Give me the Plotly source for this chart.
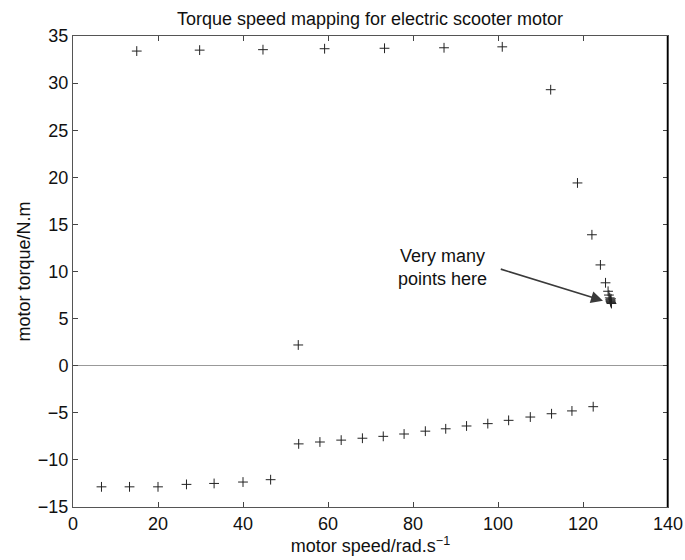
import plotly.graph_objects as go

# Motoring region (upper branch)
speed_motor = [15.0, 29.8, 44.7, 59.2, 73.3, 87.3, 101.0, 112.4, 118.7, 122.1, 124.1,
               125.3, 125.9, 126.1, 126.3, 126.4, 126.5, 126.6, 126.7, 126.5, 126.6]
torque_motor = [33.4, 33.5, 33.55, 33.65, 33.7, 33.75, 33.85, 29.3, 19.4, 13.9, 10.7,
                8.8, 7.9, 7.5, 7.2, 7.0, 6.8, 6.7, 6.6, 6.9, 7.1]

# Single low-torque point
speed_mid = [53.0]
torque_mid = [2.2]

# Regenerative braking region (lower branch)
speed_regen = [6.7, 13.3, 20.0, 26.7, 33.2, 40.0, 46.5,
               53.1, 58.1, 63.1, 68.1, 73.0, 77.9, 82.9, 87.7, 92.6, 97.6,
               102.5, 107.6, 112.6, 117.4, 122.4]
torque_regen = [-12.86, -12.86, -12.86, -12.6, -12.5, -12.35, -12.1,
                -8.3, -8.1, -7.9, -7.7, -7.5, -7.25, -6.95, -6.7, -6.4, -6.15,
                -5.8, -5.45, -5.1, -4.8, -4.35]

x_ticks = [0, 20, 40, 60, 80, 100, 120, 140]
y_ticks = [-15, -10, -5, 0, 5, 10, 15, 20, 25, 30, 35]

FONT = "Liberation Sans, Arial, sans-serif"
FS = 18
marker = dict(symbol="cross-thin", size=7, line=dict(width=1, color="#222222"), color="#222222")

W, H = 685, 560

fig = go.Figure()
for xs, ys in [(speed_motor, torque_motor), (speed_mid, torque_mid), (speed_regen, torque_regen)]:
    fig.add_trace(go.Scatter(x=xs, y=ys, mode="markers", marker=marker,
                             showlegend=False, hoverinfo="x+y"))

fig.add_annotation(x=86.9, y=10.4, xref="x", yref="y",
                   text="Very many<br>points here", showarrow=False,
                   font=dict(family=FONT, size=FS, color="#111111"), align="center")
fig.add_annotation(x=124.7, y=6.9, ax=100.3, ay=10.3, xref="x", yref="y",
                   axref="x", ayref="y", text="", showarrow=True,
                   arrowhead=2, arrowsize=1.5, arrowwidth=1.6, arrowcolor="#3a3a3a",
                   standoff=0)

# darker right border as in the reference
fig.add_shape(type="line", xref="x", yref="paper", x0=140, x1=140, y0=0, y1=1,
              line=dict(color="#000000", width=2.5))

axis_common = dict(showgrid=False, ticks="inside", ticklen=5, tickcolor="#444444",
                   showline=True, linecolor="#555555", linewidth=1, mirror="ticks",
                   automargin=False,
                   tickfont=dict(family=FONT, size=FS, color="#111111"))

fig.update_xaxes(range=[0, 140], tickvals=x_ticks, zeroline=False,
                 title=dict(text="motor speed/rad.s<sup>−1</sup>",
                            font=dict(family=FONT, size=FS, color="#111111"), standoff=4),
                 **axis_common)
fig.update_yaxes(range=[-15, 35], tickvals=y_ticks, zeroline=True,
                 zerolinecolor="#999999", zerolinewidth=1.2,
                 title=dict(text="motor torque/N.m",
                            font=dict(family=FONT, size=FS, color="#111111"), standoff=2),
                 **axis_common)

fig.update_layout(
    width=W, height=H,
    margin=dict(l=73, r=17, t=36, b=53),
    paper_bgcolor="white", plot_bgcolor="white",
    title=dict(text="Torque speed mapping for electric scooter motor",
               x=370 / W, xanchor="center", yref="container",
               y=1 - 19 / H, yanchor="middle",
               font=dict(family=FONT, size=FS, color="#111111")),
)

fig.write_html("out.html", config={"displayModeBar": False},
               post_script="document.body.style.margin='0';document.body.style.overflow='hidden';")
